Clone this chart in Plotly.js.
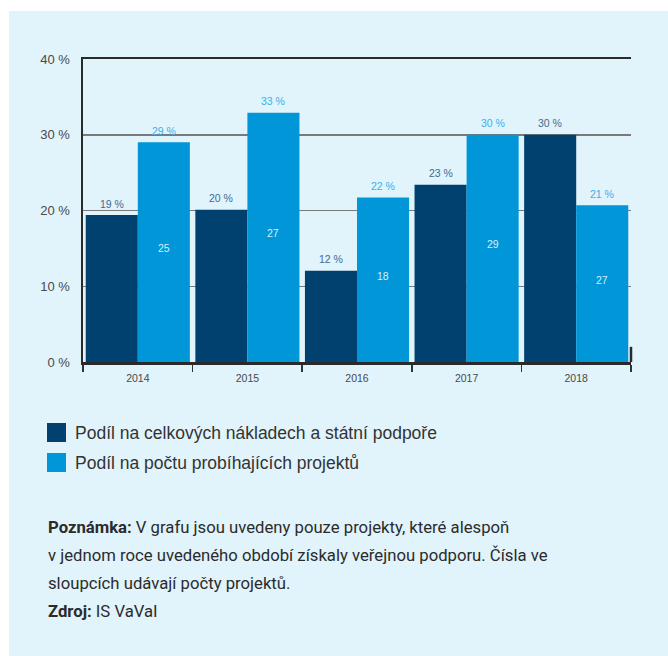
<!DOCTYPE html>
<html>
<head>
<meta charset="utf-8">
<script src="https://cdn.plot.ly/plotly-3.0.1.min.js"></script>
<style>html,body{margin:0;padding:0;background:#fff}#chart{width:668px;height:656px}</style>
</head>
<body>
<div id="chart"></div>
<script>
var years = ['2014', '2015', '2016', '2017', '2018'];
var shareCosts = [19.4, 20.1, 12.05, 23.4, 30.0];
var shareProjects = [29.0, 32.9, 21.7, 30.0, 20.7];
var projectCounts = [25, 27, 18, 29, 27];
var seriesNames = ['Podíl na celkových nákladech a státní podpoře', 'Podíl na počtu probíhajících projektů'];
var noteLines = [
  '<b>Poznámka:</b> V grafu jsou uvedeny pouze projekty, které alespoň',
  'v jednom roce uvedeného období získaly veřejnou podporu. Čísla ve',
  'sloupcích udávají počty projektů.',
  '<b>Zdroj:</b> IS VaVaI'
];

var DARK = '#00416f', LIGHT = '#0096d8', BG = '#e1f3fb';
var FW = 668, FH = 656, L = 83, R = 37, T = 59, B = 294;
var PW = FW - L - R, PH = FH - T - B;
function px(x) { return (x - L) / PW; }
function py(y) { return (FH - B - y) / PH; }

var bargap = 0.05;
var off = (1 - bargap) / 4;

var traces = [
  {type: 'bar', x: years, y: shareCosts, name: seriesNames[0], marker: {color: DARK}, showlegend: false, hoverinfo: 'y'},
  {type: 'bar', x: years, y: shareProjects, name: seriesNames[1], marker: {color: LIGHT}, showlegend: false, hoverinfo: 'y'}
];

var annotations = [];
var lblFont = 'Liberation Sans, Arial, sans-serif';
years.forEach(function (yr, i) {
  annotations.push({x: i - off, y: shareCosts[i], xref: 'x', yref: 'y', text: Math.round(shareCosts[i]) + ' %',
    showarrow: false, yanchor: 'middle', yshift: 11.5, font: {family: lblFont, size: 10.5, color: '#3f6b94'}});
  annotations.push({x: i + off, y: shareProjects[i], xref: 'x', yref: 'y', text: Math.round(shareProjects[i]) + ' %',
    showarrow: false, yanchor: 'middle', yshift: 11.5, font: {family: lblFont, size: 10.5, color: '#3fb0e6'}});
  annotations.push({x: i + off, y: shareProjects[i] / 2, xref: 'x', yref: 'y', text: String(projectCounts[i]),
    showarrow: false, yanchor: 'middle', yshift: 4, font: {family: lblFont, size: 10.5, color: '#d6eefa'}});
});

var shapes = [
  {type: 'rect', xref: 'paper', yref: 'paper', x0: px(9), x1: px(FW + 2), y0: py(11), y1: py(FH + 2), fillcolor: BG, line: {width: 0}, layer: 'below'},
  {type: 'line', xref: 'paper', yref: 'y', x0: 1, x1: 1, y0: 0, y1: 2, line: {color: '#2a2a2a', width: 2.5}}
];

// legend
var legendColors = [DARK, LIGHT];
seriesNames.forEach(function (nm, k) {
  var top = 423 + k * 30;
  shapes.push({type: 'rect', xref: 'paper', yref: 'paper', x0: px(47), x1: px(66), y0: py(top), y1: py(top + 19), fillcolor: legendColors[k], line: {width: 0}});
  annotations.push({xref: 'paper', yref: 'paper', x: px(73), y: py(top + 9.5), xanchor: 'left', yanchor: 'middle', text: nm,
    showarrow: false, font: {family: lblFont, size: 17.5, color: '#333333'}});
});

// note
noteLines.forEach(function (ln, k) {
  annotations.push({xref: 'paper', yref: 'paper', x: px(46), y: py(527 + k * 28.3), xanchor: 'left', yanchor: 'middle', text: ln,
    showarrow: false, font: {family: 'Roboto, sans-serif', size: 16.7, color: '#2b2b2b'}});
});

var layout = {
  width: FW, height: FH,
  margin: {l: L, r: R, t: T, b: B, pad: 0},
  paper_bgcolor: '#ffffff', plot_bgcolor: 'rgba(0,0,0,0)',
  barmode: 'group', bargap: bargap, bargroupgap: 0,
  xaxis: {type: 'category', showline: true, mirror: true, linecolor: '#2a2a2a', linewidth: 2.5,
    ticks: 'outside', tickson: 'boundaries', ticklen: 7, tickwidth: 1.5, tickcolor: '#333',
    ticklabelstandoff: 5,
    showgrid: false, tickfont: {family: lblFont, size: 10.5, color: '#4a4a4a'}, fixedrange: true},
  yaxis: {range: [0, 40], dtick: 10, ticksuffix: ' %', showline: true, linecolor: '#2a2a2a', linewidth: 2.5,
    showgrid: true, gridcolor: '#7a7a7a', gridwidth: 1.5, zeroline: false, ticks: '',
    ticklabelstandoff: 8, tickfont: {family: lblFont, size: 13, color: '#4a4a4a'}, fixedrange: true},
  showlegend: false,
  shapes: shapes,
  annotations: annotations
};

Plotly.newPlot('chart', traces, layout, {displayModeBar: false, staticPlot: true});
</script>
</body>
</html>
